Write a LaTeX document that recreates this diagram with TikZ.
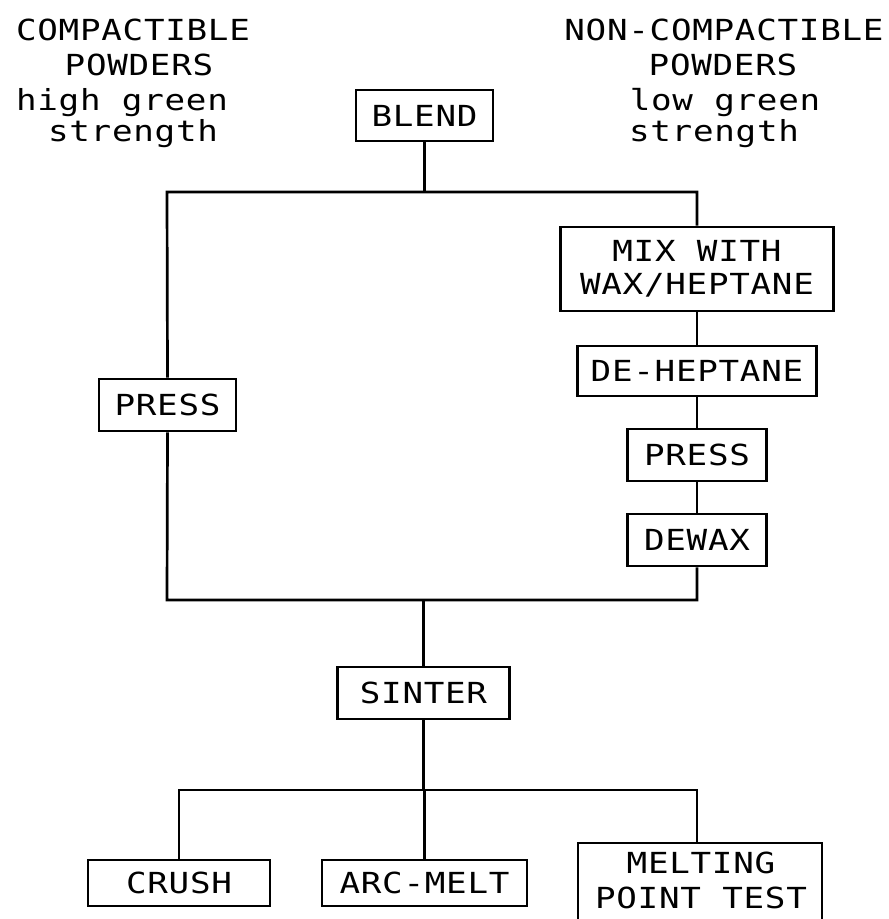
\documentclass[tikz,border=0pt]{standalone}
\usepackage{fontspec}
\newfontfamily\plotfont[FakeStretch=1.18,LetterSpace=2.5]{DejaVu Sans Mono}
\begin{document}
\begin{tikzpicture}[x=1pt,y=-1pt,
  every node/.style={font=\plotfont\fontsize{29pt}{33pt}\selectfont, inner sep=0pt},
  box/.style={draw, line width=2.7pt, align=center},
  lbl/.style={anchor=base},
  wire/.style={line width=2.7pt}]
\useasboundingbox (0,0) rectangle (889,919);
% header texts
\node[lbl] (cl1) at (133,40) {COMPACTIBLE};
\node[lbl] (cl2) at (139,75) {POWDERS};
\node[lbl] (cl3) at (122,110) {high green};
\node[lbl] (cl4) at (133,141) {strength};
\node[lbl] (nl1) at (724,40) {NON-COMPACTIBLE};
\node[lbl] (nl2) at (723,75) {POWDERS};
\node[lbl] (nl3) at (725,110) {low green};
\node[lbl] (nl4) at (714,141) {strength};
% boxes
\node[box, minimum width=137pt, minimum height=51pt] (blend) at (424.5,115.5) {BLEND};
\node[box, minimum width=273pt, minimum height=84pt] (mix) at (697,269) {MIX WITH\\WAX/HEPTANE};
\node[box, minimum width=239pt, minimum height=50pt] (dehep) at (697,371) {DE-HEPTANE};
\node[box, minimum width=139pt, minimum height=52pt] (pressR) at (697,455) {PRESS};
\node[box, minimum width=139pt, minimum height=52pt] (dewax) at (697,540) {DEWAX};
\node[box, minimum width=137pt, minimum height=52pt] (pressL) at (167.5,405) {PRESS};
\node[box, minimum width=172pt, minimum height=52pt] (sinter) at (423.5,693) {SINTER};
\node[box, minimum width=182pt, minimum height=46pt] (crush) at (179,883) {CRUSH};
\node[box, minimum width=205pt, minimum height=46pt] (arc) at (424.5,883) {ARC-MELT};
\node[align=center, font=\plotfont\fontsize{29pt}{35pt}\selectfont] (melt) at (701,880) {MELTING\\POINT TEST};
% junction coordinates
\coordinate (tl) at (167,192);
\coordinate (tr) at (697,192);
\coordinate (bl) at (167,600);
\coordinate (br) at (697,600);
\coordinate (ll) at (179,790);
\coordinate (lr) at (697,790);
\coordinate (mbl) at (578,919);
\coordinate (mtl) at (578,843);
\coordinate (mtr) at (822,843);
\coordinate (mbr) at (822,919);
% connectors
\draw[wire] (blend.south) -- (blend.south |- tl);
\draw[wire] (pressL.north) -- (tl) -- (tr) -- (mix.north);
\draw[wire] (mix.south) -- (dehep.north);
\draw[wire] (dehep.south) -- (pressR.north);
\draw[wire] (pressR.south) -- (dewax.north);
\draw[wire] (pressL.south) -- (bl) -- (br) -- (dewax.south);
\draw[wire] (sinter.north |- bl) -- (sinter.north);
\draw[wire] (sinter.south) -- (sinter.south |- ll);
\draw[wire] (crush.north) -- (ll) -- (lr) -- (lr |- mtl);
\draw[wire] (arc.north |- ll) -- (arc.north);
\draw[wire] (mbl) -- (mtl) -- (mtr) -- (mbr);
\end{tikzpicture}
\end{document}
